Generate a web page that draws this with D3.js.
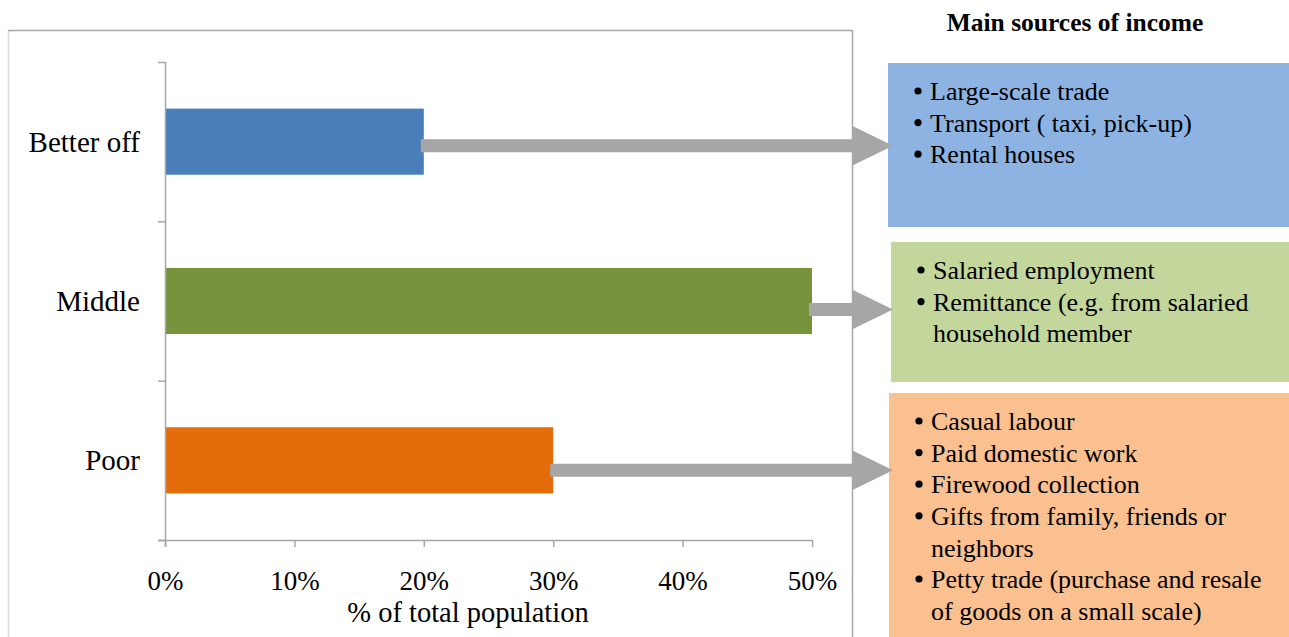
<!DOCTYPE html>
<html>
<head>
<meta charset="utf-8">
<script src="https://cdn.jsdelivr.net/npm/d3@7"></script>
<style>
  html, body { margin: 0; padding: 0; background: #fff; }
  svg { display: block; }
  text { font-family: "Liberation Serif", "Times New Roman", serif; fill: #000; }
</style>
</head>
<body>
<svg id="chart" width="1289" height="637"></svg>
<script>
// ---- data ----
const categories = ["Better off", "Middle", "Poor"];
const values = [0.20, 0.50, 0.30];
const barColors = ["#4A7EBB", "#77933C", "#E46C0A"];
const xTicks = [0, 0.1, 0.2, 0.3, 0.4, 0.5];
const xTitle = "% of total population";
const panelTitle = "Main sources of income";
const incomeBetterOff = [["Large-scale trade"], ["Transport ( taxi, pick-up)"], ["Rental houses"]];
const incomeMiddle = [["Salaried employment"], ["Remittance (e.g. from salaried", "household member"]];
const incomePoor = [["Casual labour"], ["Paid domestic work"], ["Firewood collection"],
  ["Gifts from family, friends or", "neighbors"],
  ["Petty trade (purchase and resale", "of goods on a small scale)"]];
const boxColors = ["#8DB3E2", "#C3D69B", "#FAC090"];

// ---- layout ----
const svg = d3.select("#chart");
const plot = { left: 165, right: 812, top: 62, bottom: 540 };
const boxLayout = [
  { x: 888, y: 63, h: 164, arrowDy: 4 },
  { x: 891, y: 242, h: 140, arrowDy: 8.5 },
  { x: 889, y: 393, h: 260, arrowDy: 10 }
];
const incomes = [incomeBetterOff, incomeMiddle, incomePoor];

const x = d3.scaleLinear().domain([0, 0.5]).range([plot.left, plot.right]);
const y = d3.scaleBand().domain(categories).range([plot.top, plot.bottom]).paddingInner(0.585).paddingOuter(0.2925);
const yOuter = d3.scaleBand().domain(categories).range([plot.top, plot.bottom]);

// chart frame (left, top)
svg.append("line").attr("x1", 8.5).attr("x2", 8.5).attr("y1", 30).attr("y2", 637).attr("stroke", "#d9d9d9").attr("stroke-width", 1.5);
svg.append("line").attr("x1", 8).attr("x2", 852).attr("y1", 30.5).attr("y2", 30.5).attr("stroke", "#a6a6a6").attr("stroke-width", 1.5);

// boxes
boxLayout.forEach((b, i) => {
  svg.append("rect").attr("x", b.x).attr("y", b.y).attr("width", 1289 - b.x + 5).attr("height", b.h).attr("fill", boxColors[i]);
  let line = 0;
  const g = svg.append("g");
  incomes[i].forEach(item => {
    item.forEach((t, j) => {
      const ty = b.y + 28 + line * 31.6;
      if (j === 0) {
        g.append("circle").attr("cx", b.x + 30).attr("cy", ty).attr("r", 3.6).attr("fill", "#000");
      }
      g.append("text").attr("x", b.x + 42).attr("y", ty).attr("dy", "0.35em")
        .style("font-size", "26px").text(t);
      line++;
    });
  });
});

// panel title
svg.append("text").attr("x", 1075).attr("y", 22).attr("dy", "0.35em").attr("text-anchor", "middle")
  .style("font-size", "25.5px").style("font-weight", "bold").text(panelTitle);

// bars
svg.append("g").selectAll("rect").data(categories).join("rect")
  .attr("x", x(0)).attr("y", d => y(d)).attr("height", y.bandwidth())
  .attr("width", (d, i) => x(values[i]) - x(0)).attr("fill", (d, i) => barColors[i]);

// arrows
const tipX = 893, headX = 853, shaftH = 6.5, headH = 19.5;
svg.append("g").selectAll("path").data(categories).join("path")
  .attr("fill", "#A6A6A6")
  .attr("d", (d, i) => {
    const cy = yOuter(d) + yOuter.bandwidth() / 2 + boxLayout[i].arrowDy;
    const x0 = x(values[i]) - 3;
    return `M${x0},${cy - shaftH}L${headX},${cy - shaftH}L${headX},${cy - headH}L${tipX},${cy}L${headX},${cy + headH}L${headX},${cy + shaftH}L${x0},${cy + shaftH}Z`;
  });

// right frame line
svg.append("line").attr("x1", 852.5).attr("x2", 852.5).attr("y1", 30).attr("y2", 637).attr("stroke", "#a6a6a6").attr("stroke-width", 1.5);

// axes
const axisColor = "#a6a6a6";
const gx = svg.append("g").attr("transform", `translate(0,${plot.bottom})`)
  .call(d3.axisBottom(x).tickValues(xTicks).tickFormat(d3.format(".0%")).tickSize(7).tickSizeOuter(0).tickPadding(24));
gx.select(".domain").attr("stroke", axisColor).attr("stroke-width", 1.5).attr("d", `M${plot.left - 7},0.5H${plot.right}`);
gx.selectAll(".tick line").attr("stroke", axisColor).attr("stroke-width", 1.5);
gx.selectAll(".tick text").style("font-family", "'Liberation Serif', serif").style("font-size", "27px").attr("fill", "#000");

const yTickVals = categories.map(c => yOuter(c)).concat([plot.bottom]);
const gy = svg.append("g");
gy.append("line").attr("x1", plot.left + 0.5).attr("x2", plot.left + 0.5).attr("y1", plot.top).attr("y2", plot.bottom + 7)
  .attr("stroke", axisColor).attr("stroke-width", 1.5);
gy.selectAll("line.tk").data(yTickVals).join("line").attr("class", "tk")
  .attr("x1", plot.left - 7).attr("x2", plot.left).attr("y1", d => d + 0.5).attr("y2", d => d + 0.5)
  .attr("stroke", axisColor).attr("stroke-width", 1.5);
gy.selectAll("text").data(categories).join("text")
  .attr("x", 140).attr("y", d => yOuter(d) + yOuter.bandwidth() / 2).attr("dy", "0.35em")
  .attr("text-anchor", "end").style("font-size", "29px").text(d => d);

// x title
svg.append("text").attr("x", 468).attr("y", 612).attr("dy", "0.35em").attr("text-anchor", "middle")
  .style("font-size", "28.5px").text(xTitle);
</script>
</body>
</html>
